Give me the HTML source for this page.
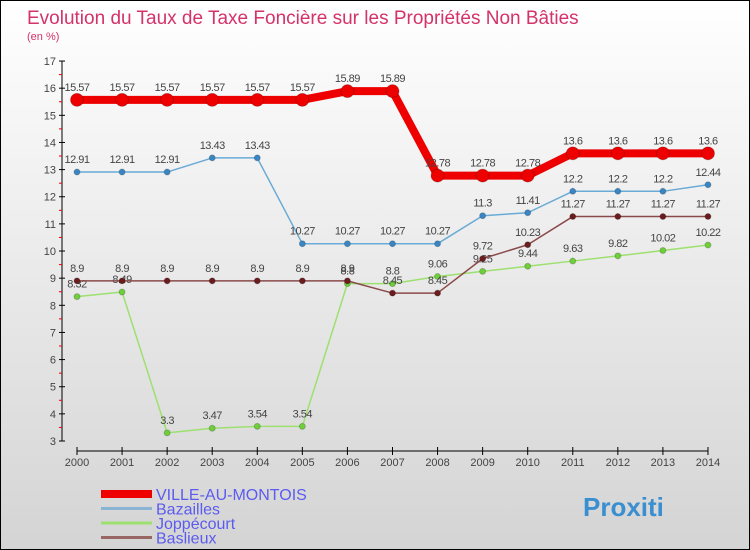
<!DOCTYPE html>
<html><head><meta charset="utf-8"><style>
body{margin:0;}
#c{width:748px;height:548px;border:1px solid #000;background:linear-gradient(#fff,#d4d4d4);position:relative;font-family:"Liberation Sans",sans-serif;overflow:hidden}
svg{position:absolute;left:0;top:0}
</style></head><body>
<div id="c">
<svg id="s" width="750" height="550">
<text x="26" y="23" font-size="19" fill="#d4326a">Evolution du Taux de Taxe Foncière sur les Propriétés Non Bâties</text>
<text x="26" y="39" font-size="11" fill="#d4326a">(en %)</text>
</svg>
</div>
<script>
const years=[2000,2001,2002,2003,2004,2005,2006,2007,2008,2009,2010,2011,2012,2013,2014];
const yTicks=[3,4,5,6,7,8,9,10,11,12,13,14,15,16,17];
const ville=[15.57,15.57,15.57,15.57,15.57,15.57,15.89,15.89,12.78,12.78,12.78,13.6,13.6,13.6,13.6];
const bazailles=[12.91,12.91,12.91,13.43,13.43,10.27,10.27,10.27,10.27,11.3,11.41,12.2,12.2,12.2,12.44];
const joppecourt=[8.32,8.49,3.3,3.47,3.54,3.54,8.8,8.8,9.06,9.25,9.44,9.63,9.82,10.02,10.22];
const baslieux=[8.9,8.9,8.9,8.9,8.9,8.9,8.9,8.45,8.45,9.72,10.23,11.27,11.27,11.27,11.27];
const names=["VILLE-AU-MONTOIS","Bazailles","Joppécourt","Baslieux"];
const s=document.getElementById('s');const NS='http://www.w3.org/2000/svg';
function X(i){return 76+i*45.07;}
function Y(v){return 440-(v-3)*27.14;}
function mk(t,a,p){const e=document.createElementNS(NS,t);for(const k in a)e.setAttribute(k,a[k]);(p||s).appendChild(e);return e;}
// axes
let ax=mk('line',{x1:61,y1:60,x2:61,y2:440,stroke:'#000','stroke-width':1});


let xa=mk('line',{x1:76,y1:450,x2:707,y2:450,stroke:'#000','stroke-width':1});


yTicks.forEach(v=>{mk('line',{x1:58,y1:Y(v),x2:64,y2:Y(v),stroke:'#000'});
 if(v<17)mk('line',{x1:58,y1:Y(v+0.5),x2:61,y2:Y(v+0.5),stroke:'#e00'});
 const t=mk('text',{x:55,y:Y(v)+4,'font-size':11,fill:'#444','text-anchor':'end'});t.textContent=v;
 
 });
years.forEach((y,i)=>{mk('line',{x1:X(i),y1:446,x2:X(i),y2:454,stroke:'#000'});
 const t=mk('text',{x:X(i),y:465,'font-size':11,fill:'#444','text-anchor':'middle'});t.textContent=y;
 
 });
const series=[[ville,'#e00',8,6.5,'#e00'],[bazailles,'#6aaad6',1.5,3,'#3a86c4'],[joppecourt,'#9de070',1.5,3,'#6ecf3a'],[baslieux,'#8b4a4a',1.5,3,'#6b1d1d']];
const order=[2,3,1,0];
order.forEach(k=>{const [d,c,w,r,pc]=series[k];
 const g=mk('g',{});
 mk('polyline',{points:d.map((v,i)=>X(i)+','+Y(v)).join(' '),fill:'none',stroke:c,'stroke-width':w,'stroke-linejoin':'round'},g);
 d.forEach((v,i)=>{const p=mk('circle',{cx:X(i),cy:Y(v),r:r,fill:pc,stroke:'rgba(0,0,0,0.2)'},g);
  
  
  const t=mk('text',{x:X(i),y:Y(v)-9,'font-size':11,fill:'#444','text-anchor':'middle','letter-spacing':'-0.5'},g);t.textContent=v;
  
  });
});
// legend
const lc=['#e00','#8ab4d4','#9de070','#996666'],lw=[8,3,3,3];
names.forEach((n,i)=>{const y=493+i*14.5;
 const g=mk('g',{});
 mk('line',{x1:100,y1:y,x2:151,y2:y,stroke:lc[i],'stroke-width':lw[i]},g);
 const t=mk('text',{x:155,y:y+6,'font-size':16,fill:'#5b5bf0'},g);t.textContent=n;});
const lg=mk('text',{x:582,y:515,'font-size':26,'font-weight':'bold',fill:'#3a8fd0'});
lg.textContent='Proxiti';


</script>
</body></html>
